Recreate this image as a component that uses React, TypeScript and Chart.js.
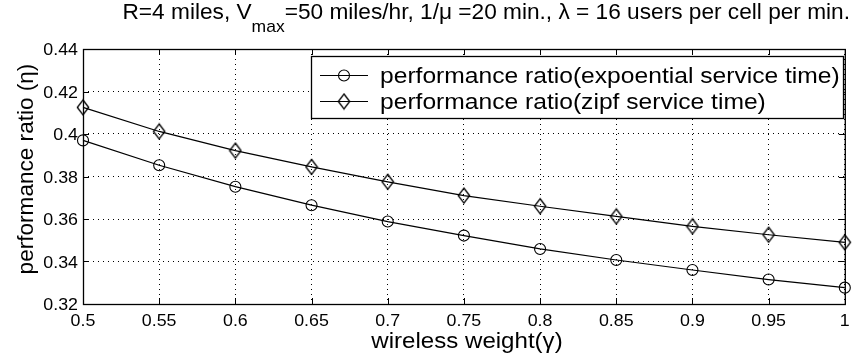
import React, { useEffect, useRef } from 'react';
import { Chart, registerables } from 'chart.js';

Chart.register(...registerables);

const xValues = [0.5, 0.55, 0.6, 0.65, 0.7, 0.75, 0.8, 0.85, 0.9, 0.95, 1.0];
const expValues = [0.397, 0.3853, 0.3752, 0.3665, 0.3588, 0.3522, 0.3459, 0.3407, 0.336, 0.3315, 0.3277];
const zipfValues = [0.4125, 0.4012, 0.3922, 0.3845, 0.3775, 0.371, 0.366, 0.3612, 0.3565, 0.3526, 0.349];

const xTickValues = [0.5, 0.55, 0.6, 0.65, 0.7, 0.75, 0.8, 0.85, 0.9, 0.95, 1.0];
const xTickLabels = ['0.5', '0.55', '0.6', '0.65', '0.7', '0.75', '0.8', '0.85', '0.9', '0.95', '1'];
const yTickValues = [0.32, 0.34, 0.36, 0.38, 0.4, 0.42, 0.44];
const yTickLabels = ['0.32', '0.34', '0.36', '0.38', '0.4', '0.42', '0.44'];

const seriesLabels = [
  'performance ratio(expoential service time)',
  'performance ratio(zipf service time)',
];
const titlePre = 'R=4 miles, V';
const titleSub = 'max';
const titlePost = '=50 miles/hr, 1/\u03bc =20 min., \u03bb = 16 users per cell per min.';
const xAxisTitle = 'wireless weight(\u03b3)';
const yAxisTitle = 'performance ratio (\u03b7)';

const FONT = '"Liberation Sans", Arial, Helvetica, sans-serif';

function makeDiamond(): HTMLCanvasElement {
  const c = document.createElement('canvas');
  c.width = 14;
  c.height = 18;
  const g = c.getContext('2d')!;
  g.strokeStyle = '#000';
  g.lineWidth = 1.3;
  g.beginPath();
  g.moveTo(7, 1.5);
  g.lineTo(12.7, 9);
  g.lineTo(7, 16.5);
  g.lineTo(1.3, 9);
  g.closePath();
  g.stroke();
  return c;
}

function drawText(ctx: CanvasRenderingContext2D, text: string, x: number, y: number, size: number, align: CanvasTextAlign, sx: number, rot = 0) {
  ctx.save();
  ctx.font = `${size}px ${FONT}`;
  ctx.fillStyle = '#000';
  ctx.translate(x, y);
  if (rot) ctx.rotate(rot);
  ctx.scale(sx, 1);
  ctx.textAlign = align;
  ctx.textBaseline = 'alphabetic';
  ctx.fillText(text, 0, 0);
  ctx.restore();
}

function textW(ctx: CanvasRenderingContext2D, text: string, size: number, sx: number) {
  ctx.save();
  ctx.font = `${size}px ${FONT}`;
  const w = ctx.measureText(text).width * sx;
  ctx.restore();
  return w;
}

export default function App() {
  const ref = useRef<HTMLCanvasElement | null>(null);

  useEffect(() => {
    const canvas = ref.current;
    if (!canvas) return;
    const diamond = makeDiamond();

    const decor = {
      id: 'decor',
      afterDraw(chart: any) {
        const ctx: CanvasRenderingContext2D = chart.ctx;
        const { left, right, top, bottom } = chart.chartArea;
        const xs = chart.scales.x;
        const ys = chart.scales.y;
        ctx.save();
        ctx.strokeStyle = '#000';
        ctx.lineWidth = 1.3;
        ctx.strokeRect(left + 0.5, top + 0.5, right - left, bottom - top);
        const tl = 6;
        ctx.lineWidth = 1;
        ctx.beginPath();
        xTickValues.forEach((v) => {
          const px = Math.round(xs.getPixelForValue(v)) + 0.5;
          ctx.moveTo(px, bottom);
          ctx.lineTo(px, bottom - tl);
          ctx.moveTo(px, top);
          ctx.lineTo(px, top + tl);
        });
        yTickValues.forEach((v) => {
          const py = Math.round(ys.getPixelForValue(v)) + 0.5;
          ctx.moveTo(left, py);
          ctx.lineTo(left + tl, py);
          ctx.moveTo(right, py);
          ctx.lineTo(right - tl, py);
        });
        ctx.stroke();
        ctx.restore();

        // tick labels
        xTickValues.forEach((v, i) => {
          drawText(ctx, xTickLabels[i], xs.getPixelForValue(v), bottom + 22, 16.5, 'center', 1.08);
        });
        yTickValues.forEach((v, i) => {
          drawText(ctx, yTickLabels[i], left - 5, ys.getPixelForValue(v) + 6, 16.5, 'right', 1.08);
        });

        // axis titles
        drawText(ctx, xAxisTitle, 467, 348, 21.5, 'center', 1.12);
        drawText(ctx, yAxisTitle, 33, 169, 21.5, 'center', 1.05, -Math.PI / 2);

        // title
        const tsx = 1.03;
        const wPre = textW(ctx, titlePre, 22, tsx);
        const wSub = textW(ctx, titleSub, 17, tsx);
        const wPost = textW(ctx, titlePost, 22, tsx);
        let tx = 850 - (wPre + wSub + wPost);
        drawText(ctx, titlePre, tx, 19, 22, 'left', tsx);
        tx += wPre;
        drawText(ctx, titleSub, tx, 31.5, 17, 'left', tsx);
        tx += wSub;
        drawText(ctx, titlePost, tx, 19, 22, 'left', tsx);

        // legend
        const bx = 311, by = 56, bw = 532, bh = 62;
        ctx.save();
        ctx.fillStyle = '#fff';
        ctx.fillRect(bx, by, bw, bh);
        ctx.strokeStyle = '#000';
        ctx.lineWidth = 1.3;
        ctx.strokeRect(bx + 0.5, by + 0.5, bw, bh);
        ctx.lineWidth = 1.1;
        const rows = [75, 101];
        rows.forEach((ry, i) => {
          ctx.beginPath();
          ctx.moveTo(320, ry + 0.5);
          ctx.lineTo(368, ry + 0.5);
          ctx.stroke();
          if (i === 0) {
            ctx.beginPath();
            ctx.arc(344, ry + 0.5, 5.5, 0, Math.PI * 2);
            ctx.stroke();
          } else {
            ctx.drawImage(diamond, 344 - diamond.width / 2, ry + 0.5 - diamond.height / 2);
          }
          drawText(ctx, chart.data.datasets[i].label, 380, ry + 7.5, 21.5, 'left', 1.145);
        });
        ctx.restore();
      },
    };

    const chart = new Chart(canvas, {
      type: 'line',
      data: {
        datasets: [
          {
            label: seriesLabels[0],
            data: xValues.map((x, i) => ({ x, y: expValues[i] })),
            borderColor: '#000',
            borderWidth: 1.2,
            pointStyle: 'circle',
            pointRadius: 5.5,
            pointBorderColor: '#000',
            pointBorderWidth: 1.1,
            pointBackgroundColor: 'rgba(0,0,0,0)',
            tension: 0,
            clip: false as any,
          },
          {
            label: seriesLabels[1],
            data: xValues.map((x, i) => ({ x, y: zipfValues[i] })),
            borderColor: '#000',
            borderWidth: 1.2,
            pointStyle: diamond as any,
            pointRadius: 7,
            pointBorderColor: '#000',
            pointBackgroundColor: 'rgba(0,0,0,0)',
            tension: 0,
            clip: false as any,
          },
        ],
      },
      options: {
        responsive: false,
        animation: false,
        devicePixelRatio: 1,
        layout: { padding: { left: 83, right: 5, top: 49, bottom: 58 } },
        plugins: {
          legend: { display: false },
          tooltip: { enabled: false },
          title: { display: false },
        },
        scales: {
          x: {
            type: 'linear',
            min: 0.5,
            max: 1,
            ticks: { display: false, stepSize: 0.05 },
            grid: { color: '#000', lineWidth: 1, drawTicks: false },
            border: { display: false, dash: [1, 4] },
            afterFit: (s: any) => { s.height = 0; },
          },
          y: {
            type: 'linear',
            min: 0.32,
            max: 0.44,
            ticks: { display: false, stepSize: 0.02 },
            grid: { color: '#000', lineWidth: 1, drawTicks: false },
            border: { display: false, dash: [1, 4] },
            afterFit: (s: any) => { s.width = 0; },
          },
        },
      },
      plugins: [decor],
    });

    return () => chart.destroy();
  }, []);

  return (
    <div style={{ position: 'absolute', left: 0, top: 0, width: 853, height: 362, background: '#fff' }}>
      <canvas ref={ref} width={853} height={362} style={{ display: 'block', width: 853, height: 362 }} />
    </div>
  );
}
